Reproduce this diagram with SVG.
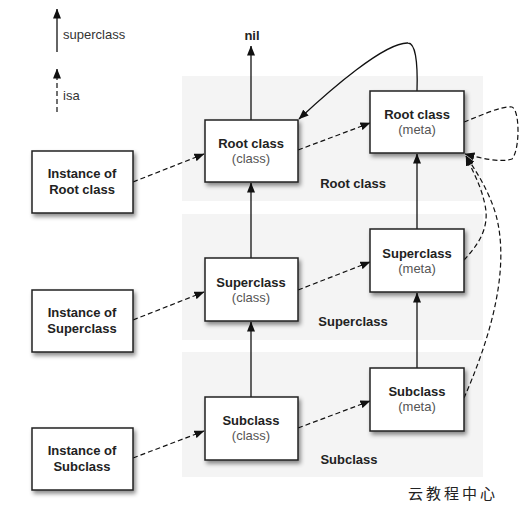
<svg xmlns="http://www.w3.org/2000/svg" width="522" height="517" viewBox="0 0 522 517">
<defs>
<style>
.band{fill:#f4f4f4}
.box{fill:#fff;stroke:#222;stroke-width:1.5;filter:url(#sh)}
.t{font-family:"Liberation Sans",Arial,sans-serif;font-size:13px;font-weight:bold;fill:#222;text-anchor:middle}
.s{font-family:"Liberation Sans",Arial,sans-serif;font-size:13px;fill:#555;text-anchor:middle}
.lg{font-family:"Liberation Sans",Arial,sans-serif;font-size:13px;fill:#333}
.sup{fill:none;stroke:#111;stroke-width:1.3;marker-end:url(#ah)}
.isa{fill:none;stroke:#111;stroke-width:1.2;stroke-dasharray:5,3;marker-end:url(#ah)}
</style>
<marker id="ah" viewBox="0 0 10 8" refX="9.5" refY="4" markerWidth="10" markerHeight="8" markerUnits="userSpaceOnUse" orient="auto"><path d="M0,0 L10,4 L0,8 z" fill="#111"/></marker>
<filter id="sh" x="-20%" y="-20%" width="150%" height="150%"><feDropShadow dx="2" dy="3" stdDeviation="2" flood-color="#000" flood-opacity="0.45"/></filter>
</defs>
<rect width="522" height="517" fill="#fff"/>
<g id="bands">
<rect class="band" x="182" y="76" width="301" height="125"/>
<rect class="band" x="182" y="214" width="301" height="126"/>
<rect class="band" x="182" y="352" width="301" height="125"/>
<text class="t" x="353" y="188">Root class</text>
<text class="t" x="353" y="326">Superclass</text>
<text class="t" x="349" y="464">Subclass</text>
</g>
<g id="legend">
<path class="sup" d="M57,52 V9"/>
<text class="lg" x="63" y="39">superclass</text>
<path class="isa" d="M57,112 V69"/>
<text class="lg" x="63" y="100">isa</text>
</g>
<text id="nil" class="t" x="252" y="40">nil</text>
<g id="connectors">
<path class="sup" d="M251,120 V46"/>
<path class="sup" d="M417,91 C418,60 415,43 408,43 C385,42 330,90 299,119"/>
<path class="sup" d="M251,258 V183"/>
<path class="sup" d="M251,397 V322"/>
<path class="sup" d="M417,229 V154"/>
<path class="sup" d="M417,368 V293"/>
<path class="isa" d="M133,182 L204,154"/>
<path class="isa" d="M133,320 L204,292"/>
<path class="isa" d="M133,458 L204,431"/>
<path class="isa" d="M298,150 L370,123"/>
<path class="isa" d="M298,290 L370,262"/>
<path class="isa" d="M298,428 L370,401"/>
<path class="isa" d="M464,122 C480,116 500,106 512,107 C520,110 520,150 512,159 C500,163 480,158 465,154"/>
<path class="isa" d="M464,260 C478,245 490,228 485,205 C481,185 472,170 466,156"/>
<path class="isa" d="M464,398 C485,350 512,275 496,215 C488,188 475,170 466,156"/>
</g>
<g id="inst-root"><rect class="box" x="32" y="151" width="101" height="62"/><text class="t" x="82" y="178">Instance of</text><text class="t" x="82" y="194">Root class</text></g>
<g id="inst-super"><rect class="box" x="32" y="290" width="101" height="62"/><text class="t" x="82" y="317">Instance of</text><text class="t" x="82" y="333">Superclass</text></g>
<g id="inst-sub"><rect class="box" x="32" y="428" width="101" height="62"/><text class="t" x="82" y="455">Instance of</text><text class="t" x="82" y="471">Subclass</text></g>
<g id="root-class"><rect class="box" x="205" y="120" width="93" height="62"/><text class="t" x="251" y="148">Root class</text><text class="s" x="251" y="163">(class)</text></g>
<g id="super-class"><rect class="box" x="205" y="258" width="93" height="63"/><text class="t" x="251" y="287">Superclass</text><text class="s" x="251" y="302">(class)</text></g>
<g id="sub-class"><rect class="box" x="205" y="397" width="93" height="63"/><text class="t" x="251" y="425">Subclass</text><text class="s" x="251" y="440">(class)</text></g>
<g id="root-meta"><rect class="box" x="370" y="91" width="94" height="62"/><text class="t" x="417" y="119">Root class</text><text class="s" x="417" y="134">(meta)</text></g>
<g id="super-meta"><rect class="box" x="370" y="229" width="94" height="63"/><text class="t" x="417" y="258">Superclass</text><text class="s" x="417" y="273">(meta)</text></g>
<g id="sub-meta"><rect class="box" x="370" y="368" width="94" height="63"/><text class="t" x="417" y="396">Subclass</text><text class="s" x="417" y="411">(meta)</text></g>
<text id="wm" x="453" y="499" font-family="'Noto Sans CJK SC',sans-serif" font-size="15" letter-spacing="3" text-anchor="middle" fill="#222">云教程中心</text>
</svg>
